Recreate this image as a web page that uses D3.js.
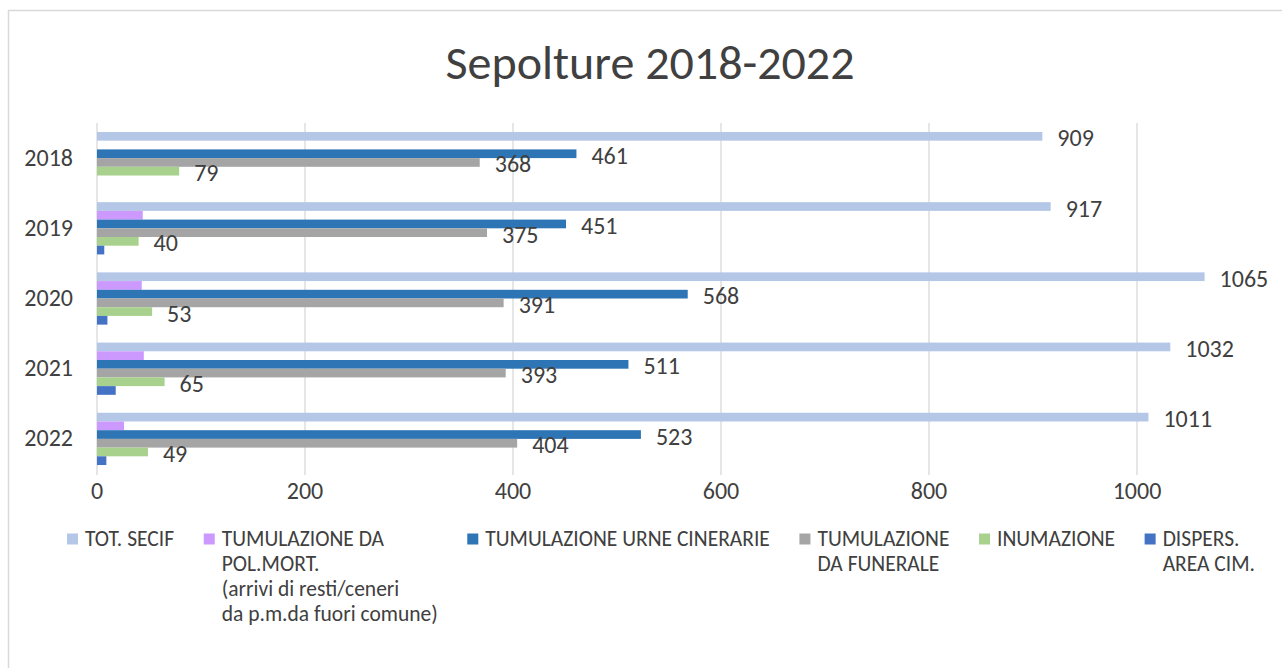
<!DOCTYPE html>
<html>
<head>
<meta charset="utf-8">
<script src="https://cdn.jsdelivr.net/npm/d3@7"></script>
<style>
  body { margin: 0; background: #fff; }
  text { font-family: Carlito, Lato, sans-serif; }
</style>
</head>
<body>
<svg id="chart" width="1282" height="668"></svg>
<script>
// data
const years = ['2018', '2019', '2020', '2021', '2022'];
const totSecif = [909, 917, 1065, 1032, 1011];
const tumPolMort = [0, 44, 43, 45, 26];
const tumUrne = [461, 451, 568, 511, 523];
const tumFunerale = [368, 375, 391, 393, 404];
const inumazione = [79, 40, 53, 65, 49];
const dispersArea = [0, 7, 10, 18, 9];
const xTicks = [0, 200, 400, 600, 800, 1000];

const series = [
  { name: ['TOT. SECIF'], values: totSecif, color: '#b4c7e7', label: true },
  { name: ['TUMULAZIONE DA', 'POL.MORT.', '(arrivi di resti/ceneri', 'da p.m.da fuori comune)'], values: tumPolMort, color: '#cc99ff', label: false },
  { name: ['TUMULAZIONE URNE CINERARIE'], values: tumUrne, color: '#2e75b6', label: true },
  { name: ['TUMULAZIONE', 'DA FUNERALE'], values: tumFunerale, color: '#a5a5a5', label: true },
  { name: ['INUMAZIONE'], values: inumazione, color: '#a9d18e', label: true },
  { name: ['DISPERS.', 'AREA CIM.'], values: dispersArea, color: '#4472c4', label: false }
];

const svg = d3.select('#chart');

// chart border (runs off the right and bottom edge)
svg.append('rect')
  .attr('x', 8.5).attr('y', 10.5)
  .attr('width', 1400).attr('height', 800)
  .attr('fill', 'none')
  .attr('stroke', '#d9d9d9')
  .attr('stroke-width', 1.5);

// title
svg.append('text')
  .attr('x', 650).attr('y', 62)
  .attr('text-anchor', 'middle')
  .attr('dominant-baseline', 'central')
  .attr('font-size', 48)
  .attr('fill', '#404040')
  .text('Sepolture 2018-2022');

const plot = { left: 97, top: 123, bottom: 474 };

const x = d3.scaleLinear().domain([0, 1000]).range([plot.left, plot.left + 1040]);
const y = d3.scaleBand().domain(years).range([plot.top, plot.bottom]);
const ySub = d3.scaleBand()
  .domain(d3.range(series.length))
  .range([0, y.bandwidth()])
  .paddingOuter(1.03);

// gridlines
svg.append('g')
  .selectAll('line')
  .data(xTicks)
  .join('line')
  .attr('x1', d => x(d)).attr('x2', d => x(d))
  .attr('y1', plot.top).attr('y2', plot.bottom + 1)
  .attr('stroke', '#d9d9d9')
  .attr('stroke-width', 1.3);

// x tick labels
svg.append('g')
  .selectAll('text')
  .data(xTicks)
  .join('text')
  .attr('x', d => x(d))
  .attr('y', 490)
  .attr('text-anchor', 'middle')
  .attr('dominant-baseline', 'central')
  .attr('font-size', 24)
  .attr('fill', '#404040')
  .text(d => d);

// year labels
svg.append('g')
  .selectAll('text')
  .data(years)
  .join('text')
  .attr('x', 73)
  .attr('y', d => y(d) + y.bandwidth() / 2 - 1)
  .attr('text-anchor', 'end')
  .attr('dominant-baseline', 'central')
  .attr('font-size', 24)
  .attr('fill', '#404040')
  .text(d => d);

// bars
const groups = svg.append('g')
  .selectAll('g')
  .data(series)
  .join('g')
  .attr('fill', d => d.color);

groups.selectAll('rect')
  .data((s, si) => s.values.map((v, i) => ({ v, year: years[i], si })))
  .join('rect')
  .attr('x', x(0))
  .attr('y', d => y(d.year) + ySub(d.si))
  .attr('width', d => x(d.v) - x(0))
  .attr('height', ySub.bandwidth());

// data labels
const labelData = [];
series.forEach((s, si) => {
  if (!s.label) return;
  s.values.forEach((v, i) => labelData.push({ v, year: years[i], si }));
});
svg.append('g')
  .selectAll('text')
  .data(labelData)
  .join('text')
  .attr('x', d => x(d.v) + 15)
  .attr('y', d => y(d.year) + ySub(d.si) + ySub.bandwidth() / 2 + 1.5)
  .attr('dominant-baseline', 'central')
  .attr('font-size', 24)
  .attr('fill', '#404040')
  .text(d => d.v);

// legend
const legendTop = 539;
const lineH = 25;
const leg = svg.append('g');
const items = leg.selectAll('g')
  .data(series)
  .join('g');
items.append('rect')
  .attr('x', 0).attr('y', legendTop - 5.5)
  .attr('width', 11).attr('height', 11)
  .attr('fill', d => d.color);
items.each(function (d) {
  const t = d3.select(this).append('text')
    .attr('font-size', 21.5)
    .attr('fill', '#404040');
  d.name.forEach((line, k) => {
    t.append('tspan')
      .attr('x', 18)
      .attr('y', legendTop + k * lineH)
      .attr('dominant-baseline', 'central')
      .text(line);
  });
});
// spread items between the measured left and right ends
const widths = [];
items.each(function () { widths.push(this.getBBox().width); });
const legLeft = 67, legRight = 1255;
const gap = (legRight - legLeft - d3.sum(widths)) / (widths.length - 1);
let cx = legLeft;
items.attr('transform', (d, i) => {
  const tx = cx;
  cx += widths[i] + gap;
  return 'translate(' + tx + ',0)';
});
</script>
</body>
</html>
